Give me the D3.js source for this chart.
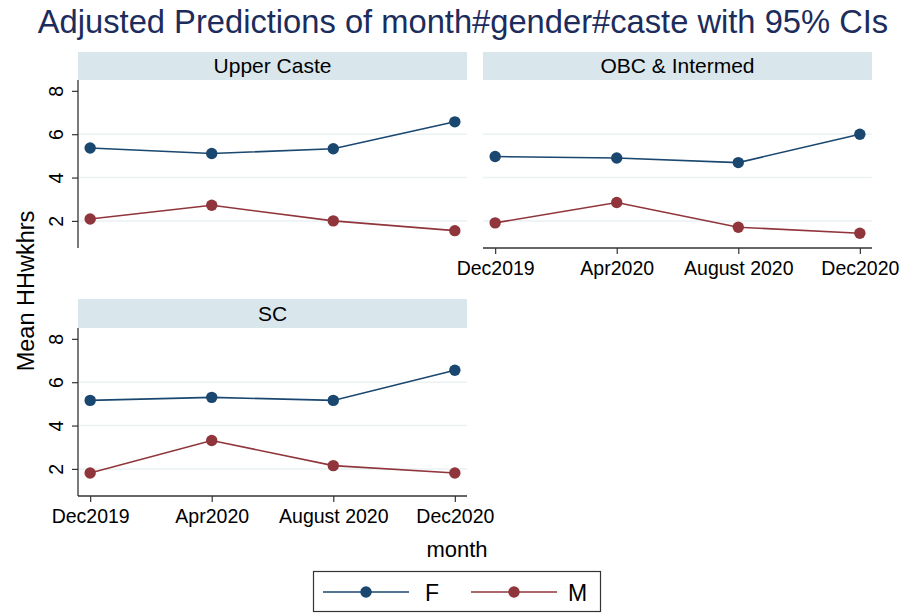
<!DOCTYPE html>
<html>
<head>
<meta charset="utf-8">
<script src="https://cdn.jsdelivr.net/npm/d3@7"></script>
<style>
  html, body { margin: 0; padding: 0; background: #fff; }
  svg { display: block; font-family: "Liberation Sans", Arial, Helvetica, sans-serif; }
</style>
</head>
<body>
<svg id="chart" width="905" height="613"></svg>
<script>
// ---- data ----
const months = ["Dec2019", "Apr2020", "August 2020", "Dec2020"];
const castes = ["Upper Caste", "OBC & Intermed", "SC"];
const genders = ["F", "M"];
const upperF = [5.36, 5.11, 5.33, 6.57];
const upperM = [2.09, 2.72, 2.00, 1.55];
const obcF   = [4.97, 4.90, 4.69, 6.00];
const obcM   = [1.91, 2.85, 1.71, 1.43];
const scF    = [5.16, 5.30, 5.16, 6.55];
const scM    = [1.81, 3.31, 2.15, 1.81];
const yTicks = [2, 4, 6, 8];
const gridTicks = [2, 4, 6];
const yDomain = [0.75, 8.5];
const titleText = "Adjusted Predictions of month#gender#caste with 95% CIs";
const yLabel = "Mean HHwkhrs";
const xLabel = "month";

const seriesByCaste = {
  "Upper Caste": { F: upperF, M: upperM },
  "OBC & Intermed": { F: obcF, M: obcM },
  "SC": { F: scF, M: scM }
};
const colors = { F: "#1a476f", M: "#90353b" };

// ---- layout ----
const svg = d3.select("#chart");
const cols = [[78, 467], [483, 872]];
const rows = [{ head: [52, 80], plot: [80, 248] }, { head: [299, 328], plot: [328, 496] }];
const panels = [
  { caste: castes[0], c: 0, r: 0, yAxis: true, xAxis: false },
  { caste: castes[1], c: 1, r: 0, yAxis: false, xAxis: true },
  { caste: castes[2], c: 0, r: 1, yAxis: true, xAxis: true }
];

svg.append("text")
  .attr("x", 463).attr("y", 33)
  .attr("text-anchor", "middle")
  .attr("font-size", 32.7)
  .attr("fill", "#1c2c5c")
  .text(titleText);

panels.forEach(p => {
  const [x0, x1] = cols[p.c];
  const row = rows[p.r];
  const g = svg.append("g");
  const x = d3.scalePoint().domain(months).range([x0, x1]).padding(0.1);
  const y = d3.scaleLinear().domain(yDomain).range([row.plot[1], row.plot[0]]);

  // header strip
  g.append("rect")
    .attr("x", x0).attr("y", row.head[0])
    .attr("width", x1 - x0).attr("height", row.head[1] - row.head[0])
    .attr("fill", "#d9e6eb");
  g.append("text")
    .attr("x", (x0 + x1) / 2).attr("y", row.head[1] - 7)
    .attr("text-anchor", "middle").attr("font-size", 21).attr("fill", "#000")
    .text(p.caste);

  // gridlines
  g.selectAll(".grid").data(gridTicks).join("line")
    .attr("x1", x0).attr("x2", x1)
    .attr("y1", d => y(d)).attr("y2", d => y(d))
    .attr("stroke", "#eaf2f3").attr("stroke-width", 1.5);

  // y axis
  if (p.yAxis) {
    const ax = g.append("g").attr("transform", `translate(${x0},0)`)
      .call(d3.axisLeft(y).tickValues(yTicks).tickSize(6).tickFormat(d3.format("d")));
    ax.select(".domain").attr("stroke", "#333").attr("stroke-width", 1.3)
      .attr("d", `M0,${row.plot[0]}V${row.plot[1]}`);
    ax.selectAll(".tick line").attr("stroke", "#333").attr("stroke-width", 1.2);
    ax.selectAll(".tick text")
      .attr("font-size", 19.5).attr("fill", "#000")
      .attr("x", null).attr("dy", null)
      .attr("text-anchor", "middle")
      .attr("transform", "translate(-15,0) rotate(-90)");
  }
  // x axis
  if (p.xAxis) {
    const ax = g.append("g").attr("transform", `translate(0,${row.plot[1]})`)
      .call(d3.axisBottom(x).tickSize(6));
    ax.select(".domain").attr("stroke", "#333").attr("stroke-width", 1.3)
      .attr("d", `M${x0},0H${x1}`);
    ax.selectAll(".tick line").attr("stroke", "#333").attr("stroke-width", 1.2);
    ax.selectAll(".tick text").attr("font-size", 19.5).attr("fill", "#000")
      .attr("dy", null).attr("y", 27);
  }

  // series
  genders.forEach(gd => {
    const vals = seriesByCaste[p.caste][gd];
    const pts = months.map((m, i) => [x(m), y(vals[i])]);
    g.append("path")
      .attr("d", d3.line()(pts))
      .attr("fill", "none").attr("stroke", colors[gd]).attr("stroke-width", 1.6);
    g.selectAll(".pt-" + gd).data(pts).join("circle")
      .attr("cx", d => d[0]).attr("cy", d => d[1]).attr("r", 5.7)
      .attr("fill", colors[gd]);
  });
});

// axis titles
svg.append("text")
  .attr("transform", "translate(34,291) rotate(-90)")
  .attr("text-anchor", "middle").attr("font-size", 23.5).attr("fill", "#000")
  .text(yLabel);
svg.append("text")
  .attr("x", 457).attr("y", 557)
  .attr("text-anchor", "middle").attr("font-size", 22).attr("fill", "#000")
  .text(xLabel);

// legend
const lg = svg.append("g");
lg.append("rect").attr("x", 313.5).attr("y", 571.5).attr("width", 287).attr("height", 40)
  .attr("fill", "#fff").attr("stroke", "#333").attr("stroke-width", 1.2);
const legendItems = [
  { key: "F", lx: 323, tx: 425 },
  { key: "M", lx: 471, tx: 568 }
];
legendItems.forEach(it => {
  lg.append("line").attr("x1", it.lx).attr("x2", it.lx + 86)
    .attr("y1", 592).attr("y2", 592)
    .attr("stroke", colors[it.key]).attr("stroke-width", 1.6);
  lg.append("circle").attr("cx", it.lx + 43).attr("cy", 592).attr("r", 5.7)
    .attr("fill", colors[it.key]);
  lg.append("text").attr("x", it.tx).attr("y", 601)
    .attr("font-size", 23).attr("fill", "#000").text(it.key);
});
</script>
</body>
</html>
